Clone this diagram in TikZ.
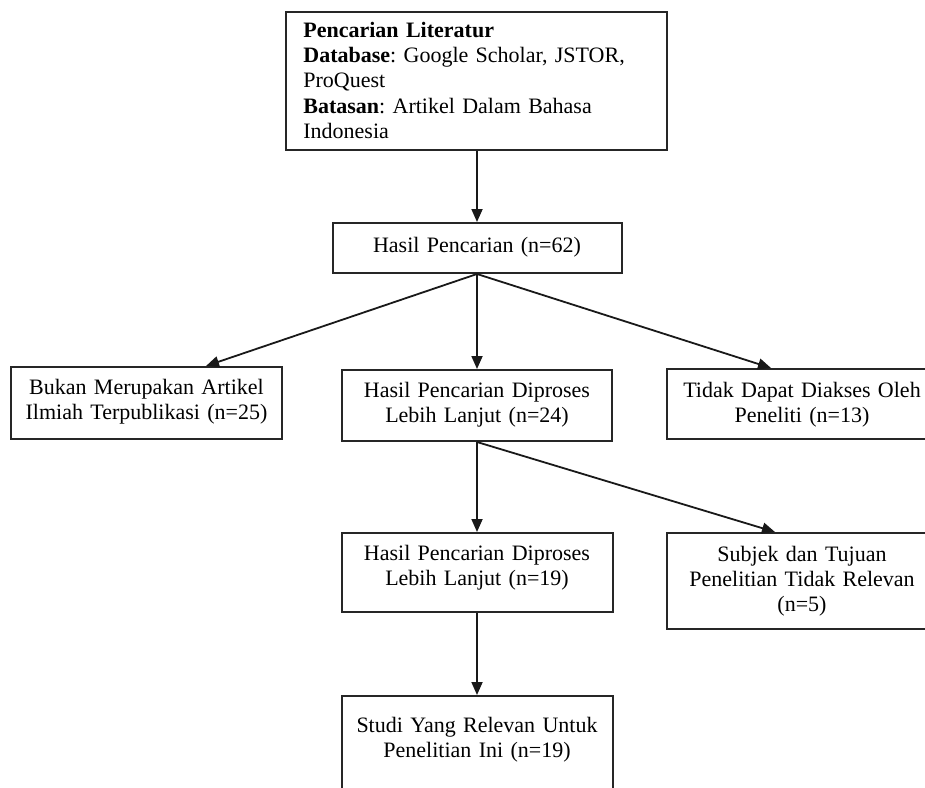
\documentclass[tikz,border=0pt]{standalone}
\usepackage{fontspec}
\setmainfont{Liberation Serif}
\usetikzlibrary{arrows.meta}
\frenchspacing
\tikzset{
  box/.style={draw=black!85, line width=1pt, fill=none, inner sep=0pt, rectangle},
  txt/.style={inner sep=0pt, anchor=north, align=center, text width=150pt,
    font=\fontsize{11}{12.6}\selectfont},
  txtl/.style={inner sep=0pt, anchor=north west, align=left, text width=180pt,
    font=\fontsize{11}{12.6}\selectfont},
  arr/.style={draw=black!90, line width=0.9pt, -{Triangle[length=6.5pt,width=5.5pt]}}
}
\begin{document}
\begin{tikzpicture}[x=0.5pt,y=-0.5pt]
\useasboundingbox (0,0) rectangle (925,787);
\clip (0,0) rectangle (925,787);
\fill[white] (0,0) rectangle (925,787);
% boxes
\node[box, minimum width=190.5pt, minimum height=69pt] (top) at (476.5,81) {};
\node[box, minimum width=144.5pt, minimum height=25pt] (hasil) at (477,248) {};
\node[box, minimum width=135.5pt, minimum height=36pt] (left) at (146.5,403) {};
\node[box, minimum width=135pt, minimum height=35.5pt] (mid) at (477,405.5) {};
\node[box, minimum width=135pt, minimum height=35pt] (right) at (802,404) {};
\node[box, minimum width=135.5pt, minimum height=39.5pt] (h19) at (477,572.5) {};
\node[box, minimum width=135pt, minimum height=48pt] (subj) at (802,581) {};
\node[box, minimum width=135.5pt, minimum height=57pt] (final) at (477,753) {};
% texts
\node[txtl] (ttop) at (303,19.36) {\strut\textbf{Pencarian Literatur}\\
  \textbf{Database}: Google Scholar, JSTOR,\\ ProQuest\\
  \textbf{Batasan}: Artikel Dalam Bahasa\\ Indonesia};
\node[txt] (thasil) at (477,234.36) {\strut Hasil Pencarian (n=62)};
\node[txt] (tleft) at (146.5,376.36) {\strut Bukan Merupakan Artikel\\ Ilmiah Terpublikasi (n=25)};
\node[txt] (tmid) at (477,379.36) {\strut Hasil Pencarian Diproses\\ Lebih Lanjut (n=24)};
\node[txt] (tright) at (802,379.36) {\strut Tidak Dapat Diakses Oleh\\ Peneliti (n=13)};
\node[txt] (th19) at (477,542.36) {\strut Hasil Pencarian Diproses\\ Lebih Lanjut (n=19)};
\node[txt] (tsubj) at (802,543.36) {\strut Subjek dan Tujuan\\ Penelitian Tidak Relevan\\ (n=5)};
\node[txt] (tfinal) at (477,714.36) {\strut Studi Yang Relevan Untuk\\ Penelitian Ini (n=19)};
% connectors
\draw[arr] (hasil.north |- top.south) -- (hasil.north);
\draw[arr] (hasil.south) -- ([xshift=29.75pt]left.north);
\draw[arr] (hasil.south) -- (mid.north);
\draw[arr] (hasil.south) -- ([xshift=-15.5pt]right.north);
\draw[arr] (mid.south) -- (h19.north);
\draw[arr] (mid.south) -- ([xshift=-13.5pt]subj.north);
\draw[arr] (h19.south) -- (final.north);
\end{tikzpicture}
\end{document}
